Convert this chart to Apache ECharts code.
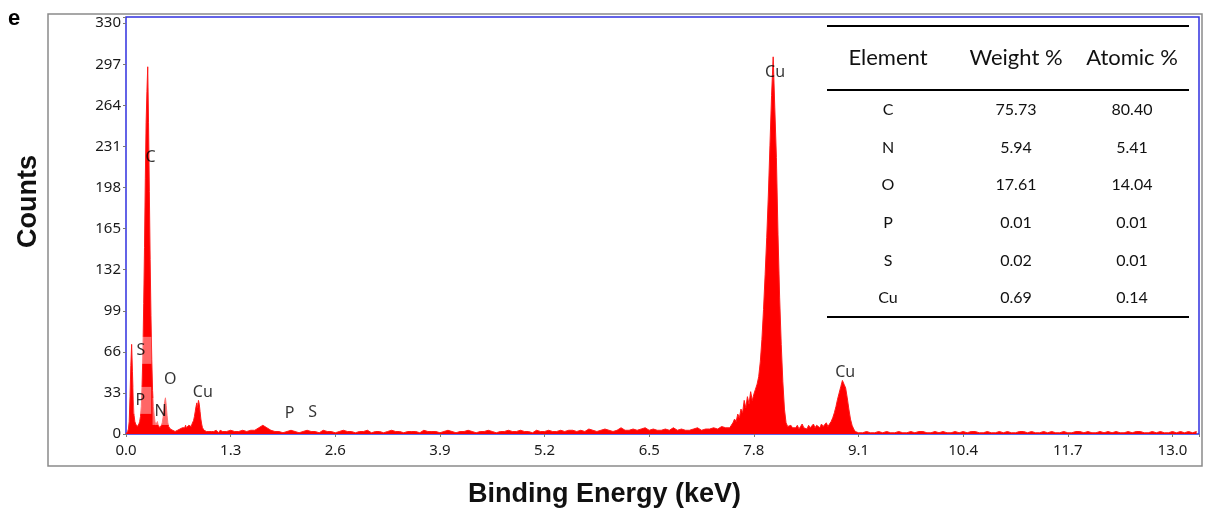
<!DOCTYPE html>
<html>
<head>
<meta charset="utf-8">
<style>
  html, body { margin: 0; padding: 0; background: #ffffff; }
  #chart { width: 1208px; height: 514px; }
</style>
<script src="https://cdn.jsdelivr.net/npm/echarts@6.0.0/dist/echarts.min.js"></script>
</head>
<body>
<div id="chart"></div>
<script>
// ---------------- DATA ----------------
// EDS spectrum, counts per channel; each segment: first energy (keV), channel step (keV), counts
const lowEnergyStart = 0.00, lowEnergyStep = 0.01;   // 0.00 .. 1.20 keV
const lowEnergyCounts = [
  0, 1, 2, 4, 10, 30, 55, 72, 50, 28,
  15, 10, 8, 7, 6, 7, 8, 10, 14, 22,
  40, 65, 105, 150, 205, 250, 275, 295, 250, 195,
  140, 95, 60, 35, 22, 15, 10, 7, 8, 10,
  7, 6, 5, 6, 7, 9, 13, 19, 26, 29,
  23, 15, 9, 6, 5, 4, 3, 4, 3, 2,
  3, 2, 3, 2, 3, 2, 3, 4, 3, 4,
  5, 4, 6, 5, 7, 5, 6, 5, 7, 6,
  7, 6, 8, 9, 11, 14, 18, 22, 25, 21,
  27, 24, 18, 12, 8, 5, 4, 3, 2, 3,
  2, 2, 3, 2, 2, 3, 2, 2, 3, 2,
  1, 2, 3, 2, 2, 1, 2, 3, 2, 2,
  2
];
const midStart = 1.25, midStep = 0.05;               // 1.25 .. 7.45 keV
const midCounts = [
  2, 3, 2, 2, 3, 2, 3, 3,
  5, 7, 5, 3,
  2, 2, 1, 2, 3, 2, 1, 2, 3, 2, 2, 1, 3, 2,
  2, 1, 2, 3, 2, 2, 1, 2, 2, 3, 1, 2, 2, 1, 2, 3, 2, 2, 1, 2,
  2, 2, 1, 3, 2, 2, 2, 1, 2, 3, 2, 1, 2, 2, 3, 2, 1, 2, 2, 3,
  2, 1, 2, 2, 3, 2, 2, 3, 2, 2, 1, 3, 2, 2, 3, 2, 2, 3, 2, 3,
  3, 2, 3, 2, 4, 3, 2, 3, 4, 3, 2, 3, 5, 3, 3, 4, 3, 4, 5, 3,
  4, 3, 3, 4, 3, 5, 3, 4, 3, 3, 4, 5, 3, 4, 4, 5, 4, 6, 5
];
const cuKaStart = 7.50, cuKaStep = 0.02;             // 7.50 .. 8.30 keV
const cuKaCounts = [
  5, 7, 9, 12, 10, 16, 13, 20, 17, 27,
  21, 30, 24, 34, 27, 32, 36, 40, 46, 58,
  76, 100, 128, 158, 192, 232, 272, 303, 262, 222,
  160, 110, 72, 42, 20, 9, 6, 5, 7, 5,
  6
];
const gapStart = 8.32, gapStep = 0.02;               // 8.32 .. 8.70 keV
const gapCounts = [5, 7, 4, 6, 8, 5, 6, 4, 7, 5, 6, 8, 5, 7, 6, 5, 8, 6, 7, 9];
const cuKbStart = 8.72, cuKbStep = 0.02;             // 8.72 .. 9.10 keV
const cuKbCounts = [6, 8, 10, 13, 17, 22, 28, 33, 38, 43, 40, 37, 29, 20, 12, 7, 4, 2, 2, 1];
const tailStart = 9.15, tailStep = 0.05;             // 9.15 .. 13.30 keV
const tailCounts = [
  1, 2, 1, 1, 2, 1, 2, 1, 1, 2, 1, 1, 2, 1, 2, 2, 1, 1, 2, 1,
  2, 1, 1, 2, 1, 2, 1, 2, 2, 1, 1, 2, 1, 1, 2, 1, 2, 1, 1, 2,
  2, 1, 2, 1, 1, 2, 1, 2, 1, 1, 2, 1, 1, 2, 2, 1, 2, 1, 1, 2,
  1, 2, 1, 2, 1, 1, 2, 1, 2, 2, 1, 1, 2, 1, 2, 1, 1, 2, 1, 2,
  1, 2, 1, 2
];

// Peak annotations: [label, energy keV, counts]
const peakLabels = [
  ['C', 0.31, 222], ['O', 0.555, 43.5], ['Cu', 0.96, 33],
  ['P', 2.04, 16], ['S', 2.326, 17], ['Cu', 8.07, 290], ['Cu', 8.94, 49]
];
// labels drawn with a translucent box (left edge energy, box-centre counts)
const boxedLabels = [
  ['S', 0.112, 66.8], ['P', 0.10, 26.6], ['N', 0.336, 17.7]
];

// Axis ticks
const xTickStep = 1.3, xMax = 13.33;
const yTickStep = 33, yMax = 335;

// Composition table
const tableHeader = ['Element', 'Weight %', 'Atomic %'];
const tableElements = ['C', 'N', 'O', 'P', 'S', 'Cu'];
const weightPct = ['75.73', '5.94', '17.61', '0.01', '0.02', '0.69'];
const atomicPct = ['80.40', '5.41', '14.04', '0.01', '0.01', '0.14'];

// ---------------- BUILD ----------------
function expand(start, step, counts, out) {
  counts.forEach((c, i) => out.push([+(start + i * step).toFixed(3), c]));
}
const spectrum = [];
expand(lowEnergyStart, lowEnergyStep, lowEnergyCounts, spectrum);
expand(midStart, midStep, midCounts, spectrum);
expand(cuKaStart, cuKaStep, cuKaCounts, spectrum);
expand(gapStart, gapStep, gapCounts, spectrum);
expand(cuKbStart, cuKbStep, cuKbCounts, spectrum);
expand(tailStart, tailStep, tailCounts, spectrum);

const chart = echarts.init(document.getElementById('chart'), null, { renderer: 'canvas' });

const tickFont = 'Noto Sans';
const tableFont = 'Lato';

// table graphics
const tblLeft = 827, tblRight = 1189;
const colX = [888, 1016, 1132];
const tblTop = 26, headerY = 58, headerLine = 90, rowY0 = 110, rowStep = 37.6, tblBottom = 317;
const tableGraphics = [];
[tblTop, headerLine, tblBottom].forEach(y => tableGraphics.push({
  type: 'line', shape: { x1: tblLeft, y1: y, x2: tblRight, y2: y },
  style: { stroke: '#000', lineWidth: 2 }, z: 10
}));
tableHeader.forEach((h, i) => tableGraphics.push({
  type: 'text', x: colX[i], y: headerY,
  style: { text: h, fill: '#111', font: '22px ' + tableFont, textAlign: 'center', textVerticalAlign: 'middle' }, z: 10
}));
tableElements.forEach((el, r) => {
  [el, weightPct[r], atomicPct[r]].forEach((t, c) => tableGraphics.push({
    type: 'text', x: colX[c], y: rowY0 + r * rowStep,
    style: { text: t, fill: '#111', font: '16px ' + tableFont, textAlign: 'center', textVerticalAlign: 'middle' }, z: 10
  }));
});

const isTick = (v, step) => Math.abs(v / step - Math.round(v / step)) < 1e-6;

const option = {
  animation: false,
  backgroundColor: '#ffffff',
  grid: {
    left: 126, right: 9, top: 17, bottom: 80,
    show: true, borderColor: '#3030e0', borderWidth: 1.5, backgroundColor: 'transparent'
  },
  xAxis: {
    type: 'value', min: 0, max: xMax, interval: xTickStep,
    name: 'Binding Energy (keV)', nameLocation: 'middle', nameGap: 47,
    nameTextStyle: { fontFamily: 'Liberation Sans', fontWeight: 'bold', fontSize: 27, color: '#111',
      padding: [0, 116, 0, 0] },
    axisLine: { show: false },
    axisTick: { show: true, length: 3, lineStyle: { color: '#777' } },
    splitLine: { show: false },
    axisLabel: {
      fontFamily: tickFont, fontSize: 15, color: '#1a1a1a', margin: 9,
      formatter: v => isTick(v, xTickStep) ? v.toFixed(1) : ''
    }
  },
  yAxis: {
    type: 'value', min: 0, max: yMax, interval: yTickStep,
    name: 'Counts', nameLocation: 'middle', nameGap: 84, nameRotate: 90,
    nameTextStyle: { fontFamily: 'Liberation Sans', fontWeight: 'bold', fontSize: 27, color: '#111',
      padding: [0, 0, 0, 48] },
    axisLine: { show: false },
    axisTick: { show: true, length: 3, lineStyle: { color: '#777' } },
    splitLine: { show: false },
    axisLabel: {
      fontFamily: tickFont, fontSize: 15, color: '#1a1a1a', margin: 5,
      formatter: v => isTick(v, yTickStep) ? String(Math.round(v)) : ''
    }
  },
  graphic: [
    { type: 'rect', shape: { x: 48, y: 14, width: 1154, height: 452 },
      style: { fill: 'none', stroke: '#8a8a8a', lineWidth: 1.5 }, z: -1 },
    { type: 'text', x: 8, y: 8,
      style: { text: 'e', fill: '#000', font: 'bold 22px "Liberation Sans"' } },
    ...tableGraphics
  ],
  series: [
    {
      type: 'line', data: spectrum, showSymbol: false, symbol: 'none',
      lineStyle: { color: '#ff1a1a', width: 1 },
      areaStyle: { color: '#ff0000', opacity: 1 },
      z: 2, silent: true
    },
    {
      type: 'scatter', data: peakLabels.map(p => ({ name: p[0], value: [p[1], p[2]] })),
      symbolSize: 1, itemStyle: { color: 'transparent' }, z: 5, silent: true,
      label: {
        show: true, formatter: p => p.name, position: [0, 0], align: 'center', verticalAlign: 'middle',
        fontFamily: 'Noto Sans', fontSize: 16, color: '#000'
      }
    },
    {
      type: 'scatter', data: boxedLabels.map(p => ({ name: p[0], value: [p[1], p[2]] })),
      symbolSize: 1, itemStyle: { color: 'transparent' }, z: 5, silent: true,
      label: {
        show: true, formatter: p => p.name, position: [0, 0], align: 'left', verticalAlign: 'middle',
        fontFamily: 'Noto Sans', fontSize: 16, color: '#000',
        backgroundColor: 'rgba(255,255,255,0.5)', padding: [6, 6, 5, 2]
      }
    }
  ]
};
chart.setOption(option);
</script>
</body>
</html>
